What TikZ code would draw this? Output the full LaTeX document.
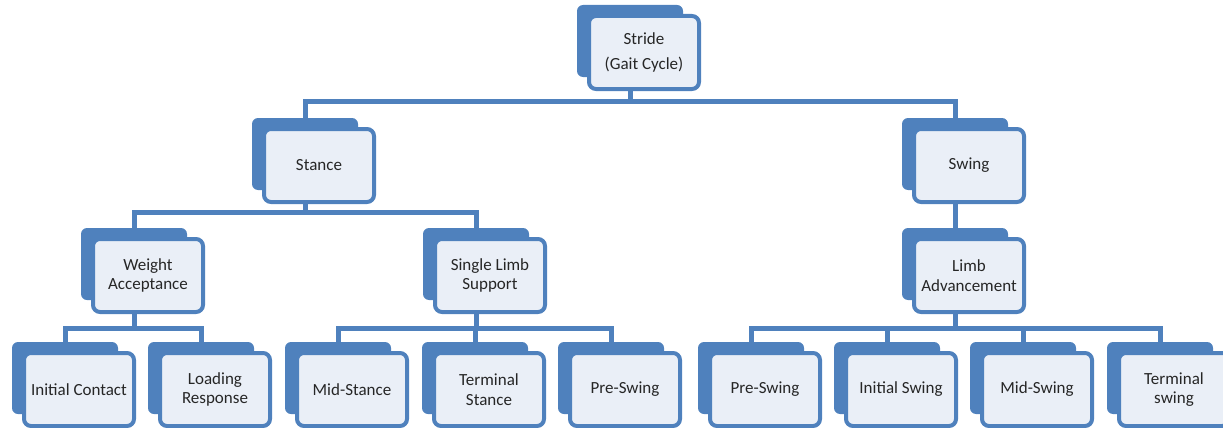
\documentclass[tikz,border=0pt]{standalone}
\usepackage{fontspec}
\setmainfont{Carlito}
\definecolor{gaitblue}{RGB}{79,129,189}
\definecolor{gaitfill}{RGB}{234,239,247}

\begin{document}
\begin{tikzpicture}[x=1pt,y=-1pt,
   backbox/.style={fill=gaitblue,rounded corners=6pt,minimum width=106pt,minimum height=72pt,inner sep=0pt},
   frontbox/.style={draw=gaitblue,fill=gaitfill,line width=4pt,rounded corners=7pt,minimum width=110pt,
     minimum height=73pt,inner sep=2pt,align=center,text=black!85,font=\fontsize{17}{19.5}\selectfont},
   link/.style={draw=gaitblue,line width=5pt}] % pixel grid, y downwards
   \useasboundingbox (0,0) rectangle (1223,428);
   \newcommand{\phase}[4]{%
    \node[backbox] (#1) at (#2+53,#3+36) {};
    \node[frontbox] (#1-f) at (#2+67,#3+47.5) {#4};}
   \phase{stride}{577}{5}{Stride\\[6pt](Gait Cycle)}
   \phase{stance}{252}{118}{Stance}
   \phase{swing}{902}{118}{Swing}
   \phase{wa}{81}{228}{Weight\\Acceptance}
   \phase{sls}{423}{228}{Single Limb\\Support}
   \phase{la}{902}{228}{Limb\\Advancement}
   \phase{ic}{12}{342}{Initial Contact}
   \phase{lr}{148}{342}{Loading\\Response}
   \phase{ms}{285}{342}{Mid-Stance}
   \phase{ts}{422}{342}{Terminal\\Stance}
   \phase{psa}{558}{342}{Pre-Swing}
   \phase{psb}{698}{342}{Pre-Swing}
   \phase{is}{834}{342}{Initial Swing}
   \phase{msw}{970}{342}{Mid-Swing}
   \phase{tsw}{1107}{342}{Terminal\\swing}
   \foreach \kid in {stance,swing}
    \draw[link] (stride.south |- stride-f.south) -- ++(0,10) -| (\kid.north);
   \foreach \kid in {wa,sls}
    \draw[link] (stance.south |- stance-f.south) -- ++(0,8) -| (\kid.north);
   \draw[link] (swing.south |- swing-f.south) -- (la.north);
   \foreach \kid in {ic,lr}
    \draw[link] (wa.south |- wa-f.south) -- ++(0,14) -| (\kid.north);
   \foreach \kid in {ms,ts,psa}
    \draw[link] (sls.south |- sls-f.south) -- ++(0,14) -| (\kid.north);
   \foreach \kid in {psb,is,msw,tsw}
    \draw[link] (la.south |- la-f.south) -- ++(0,14) -| (\kid.north);
\end{tikzpicture}
\end{document}
